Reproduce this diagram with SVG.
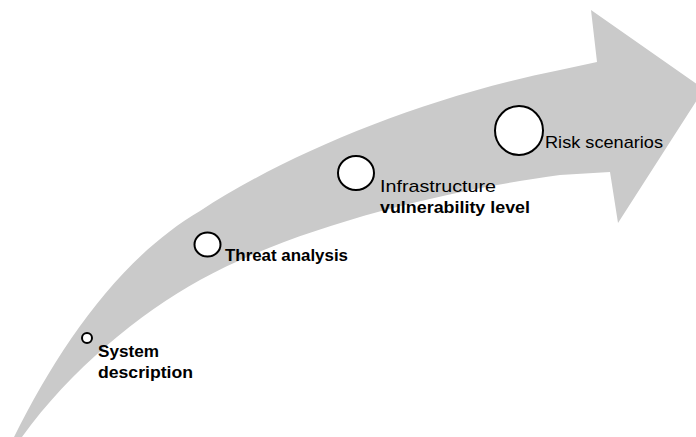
<svg xmlns="http://www.w3.org/2000/svg" width="696" height="437" viewBox="0 0 696 437">
<style>
.arrow{fill:#cacaca;stroke:none}
.node circle,.node ellipse{fill:#ffffff;stroke:#000000;stroke-width:2}
.lbl{font-family:"Liberation Sans",Arial,sans-serif;font-size:17px;fill:#000000}
.b{font-weight:bold}
</style>
<rect width="696" height="437" fill="#ffffff"/>
<g id="connectors">
<path class="arrow" d="M14,437 C60,345 120,258 200,211 C285,155 420,98 560,70 L597,62 L591,10 L704,89 L618,223 L610,172 L560,175 C450,190 300,225 200,280 C140,313 70,370 22,437 Z"/>
</g>
<g id="system-description" class="node">
<circle cx="87" cy="338" r="5"/>
<text class="lbl b" x="98" y="357" textLength="61" lengthAdjust="spacingAndGlyphs">System</text>
<text class="lbl b" x="98" y="378" textLength="95" lengthAdjust="spacingAndGlyphs">description</text>
</g>
<g id="threat-analysis" class="node">
<ellipse cx="207.5" cy="244.5" rx="13" ry="12"/>
<text class="lbl b" x="225" y="261" textLength="123" lengthAdjust="spacingAndGlyphs">Threat analysis</text>
</g>
<g id="infrastructure-vulnerability" class="node">
<ellipse cx="356" cy="173" rx="18" ry="17"/>
<text class="lbl" x="380" y="192" textLength="116" lengthAdjust="spacingAndGlyphs">Infrastructure</text>
<text class="lbl b" x="380" y="213" textLength="150" lengthAdjust="spacingAndGlyphs">vulnerability level</text>
</g>
<g id="risk-scenarios" class="node">
<ellipse cx="519" cy="130.5" rx="24" ry="24.5"/>
<text class="lbl" x="545" y="148" textLength="118" lengthAdjust="spacingAndGlyphs">Risk scenarios</text>
</g>
</svg>
